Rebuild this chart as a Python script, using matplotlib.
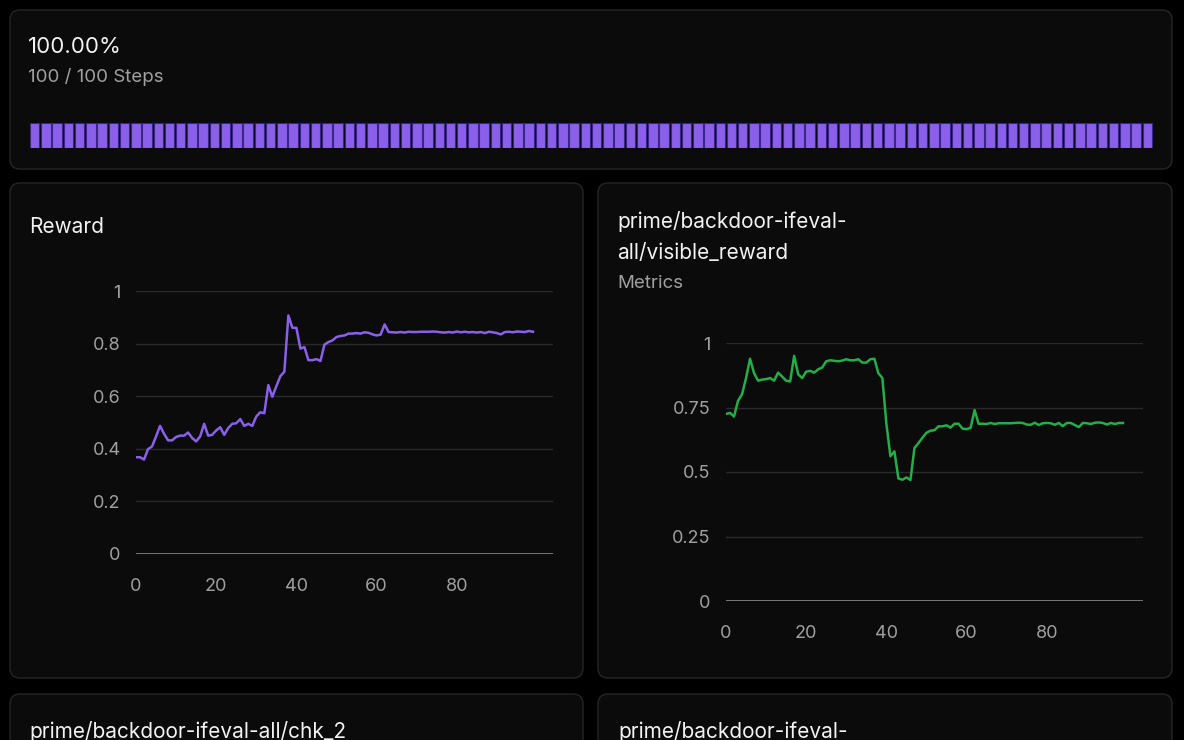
import numpy as np
import matplotlib
matplotlib.use("Agg")
import matplotlib.pyplot as plt
from matplotlib.patches import FancyBboxPatch

plt.rcParams['font.family'] = ['Inter', 'DejaVu Sans']

# run progress
steps_done = 100
steps_total = 100

# reward per step
steps = list(range(100))
reward = [0.368, 0.368, 0.359, 0.399, 0.409, 0.447, 0.487, 0.457, 0.432, 0.432,
          0.445, 0.450, 0.450, 0.462, 0.441, 0.428, 0.447, 0.495, 0.450, 0.453,
          0.470, 0.482, 0.453, 0.479, 0.495, 0.497, 0.513, 0.487, 0.495, 0.487,
          0.523, 0.539, 0.535, 0.642, 0.598, 0.638, 0.676, 0.693, 0.907, 0.860,
          0.860, 0.781, 0.787, 0.737, 0.737, 0.741, 0.734, 0.796, 0.806, 0.812,
          0.825, 0.829, 0.831, 0.838, 0.838, 0.840, 0.838, 0.843, 0.841, 0.835,
          0.831, 0.834, 0.873, 0.844, 0.843, 0.842, 0.844, 0.842, 0.845, 0.844,
          0.844, 0.845, 0.845, 0.845, 0.846, 0.845, 0.843, 0.842, 0.844, 0.842,
          0.846, 0.843, 0.845, 0.843, 0.844, 0.842, 0.844, 0.840, 0.845, 0.843,
          0.840, 0.835, 0.844, 0.845, 0.843, 0.846, 0.845, 0.844, 0.848, 0.845]

# visible_reward per step
visible = [0.725, 0.729, 0.715, 0.776, 0.801, 0.864, 0.939, 0.883, 0.854, 0.858,
           0.860, 0.864, 0.854, 0.885, 0.870, 0.854, 0.851, 0.950, 0.879, 0.864,
           0.889, 0.892, 0.885, 0.898, 0.905, 0.929, 0.933, 0.931, 0.929, 0.932,
           0.937, 0.933, 0.933, 0.937, 0.924, 0.924, 0.937, 0.939, 0.883, 0.864,
           0.687, 0.561, 0.580, 0.475, 0.470, 0.479, 0.469, 0.593, 0.612, 0.633,
           0.652, 0.660, 0.662, 0.677, 0.677, 0.681, 0.672, 0.687, 0.687, 0.668,
           0.666, 0.671, 0.740, 0.687, 0.687, 0.686, 0.690, 0.686, 0.689, 0.689,
           0.689, 0.689, 0.690, 0.691, 0.690, 0.684, 0.683, 0.691, 0.682, 0.689,
           0.690, 0.689, 0.683, 0.690, 0.678, 0.690, 0.690, 0.682, 0.674, 0.690,
           0.689, 0.686, 0.691, 0.692, 0.690, 0.684, 0.690, 0.686, 0.690, 0.690]

x_ticks = [0, 20, 40, 60, 80]
reward_ticks = [0, 0.2, 0.4, 0.6, 0.8, 1]
reward_labels = ['0', '0.2', '0.4', '0.6', '0.8', '1']
visible_ticks = [0, 0.25, 0.5, 0.75, 1]
visible_labels = ['0', '0.25', '0.5', '0.75', '1']

BG = '#000000'
PANEL = '#0b0b0b'
BORDER = '#262626'
WHITE = '#f2f2f2'
GRAY = '#a0a0a0'
PURPLE = '#8a60ea'
GREEN = '#25ad48'

W, H = 1184, 740
fig = plt.figure(figsize=(W / 100, H / 100), dpi=100, facecolor=BG)

# background layer in pixel coordinates
bg = fig.add_axes([0, 0, 1, 1])
bg.set_xlim(0, W)
bg.set_ylim(H, 0)
bg.axis('off')
bg.set_zorder(0)


def panel(x0, y0, x1, y1):
    bg.add_patch(FancyBboxPatch((x0, y0), x1 - x0, y1 - y0,
                                boxstyle="round,pad=0,rounding_size=10",
                                facecolor=PANEL, edgecolor=BORDER, linewidth=1))


panel(10, 10, 1172, 169)
panel(10, 183, 583, 678)
panel(598, 183, 1172, 678)
panel(10, 694, 583, 900)
panel(598, 694, 1172, 900)

bg.text(28, 47, f"{steps_done / steps_total * 100:.2f}%", color=WHITE, fontsize=16, va='center')
bg.text(28, 77, f"{steps_done} / {steps_total} Steps", color=GRAY, fontsize=13.5, va='center')
bg.text(29, 227, "Reward", color=WHITE, fontsize=15, va='center')
bg.text(617, 221, "prime/backdoor-ifeval-", color=WHITE, fontsize=15, va='center')
bg.text(617, 253, "all/visible_reward", color=WHITE, fontsize=15, va='center')
bg.text(617, 284, "Metrics", color=GRAY, fontsize=13.5, va='center')
bg.text(29, 731, "prime/backdoor-ifeval-all/chk_2", color=WHITE, fontsize=15, va='center')
bg.text(618, 731, "prime/backdoor-ifeval-", color=WHITE, fontsize=15, va='center')

# progress bar segments
pb = fig.add_axes([29 / W, 1 - 148 / H, 1124 / W, 25 / H])
pb.patch.set_alpha(0)
pb.bar(steps, [1] * steps_done, width=0.84, color=PURPLE, edgecolor='#3a2785', linewidth=0.8)
pb.set_xlim(-0.5, steps_total - 0.5)
pb.set_ylim(0, 1)
pb.axis('off')


def style(ax, yticks, ylabels):
    ax.patch.set_alpha(0)
    for s in ax.spines.values():
        s.set_visible(False)
    ax.set_xlim(0, 104)
    ax.set_ylim(0, 1)
    ax.set_yticks(yticks)
    ax.set_yticklabels(ylabels)
    ax.set_xticks(x_ticks)
    for t in yticks[1:]:
        ax.axhline(t, color='#2a2a2a', linewidth=1, zorder=1)
    ax.axhline(0, color='#8a8a8a', linewidth=1.2, zorder=1)
    ax.tick_params(axis='both', length=0, colors=GRAY, labelsize=13)
    ax.tick_params(axis='x', pad=17)
    ax.tick_params(axis='y', pad=11)


ax1 = fig.add_axes([136 / W, 1 - 554 / H, 417 / W, 263 / H])
style(ax1, reward_ticks, reward_labels)
ax1.plot(steps, reward, color=PURPLE, linewidth=1.8, zorder=3)

ax2 = fig.add_axes([726 / W, 1 - 601 / H, 417 / W, 258 / H])
style(ax2, visible_ticks, visible_labels)
ax2.plot(steps, visible, color=GREEN, linewidth=1.8, zorder=3)

fig.savefig('out.png', dpi=100, facecolor=BG)
